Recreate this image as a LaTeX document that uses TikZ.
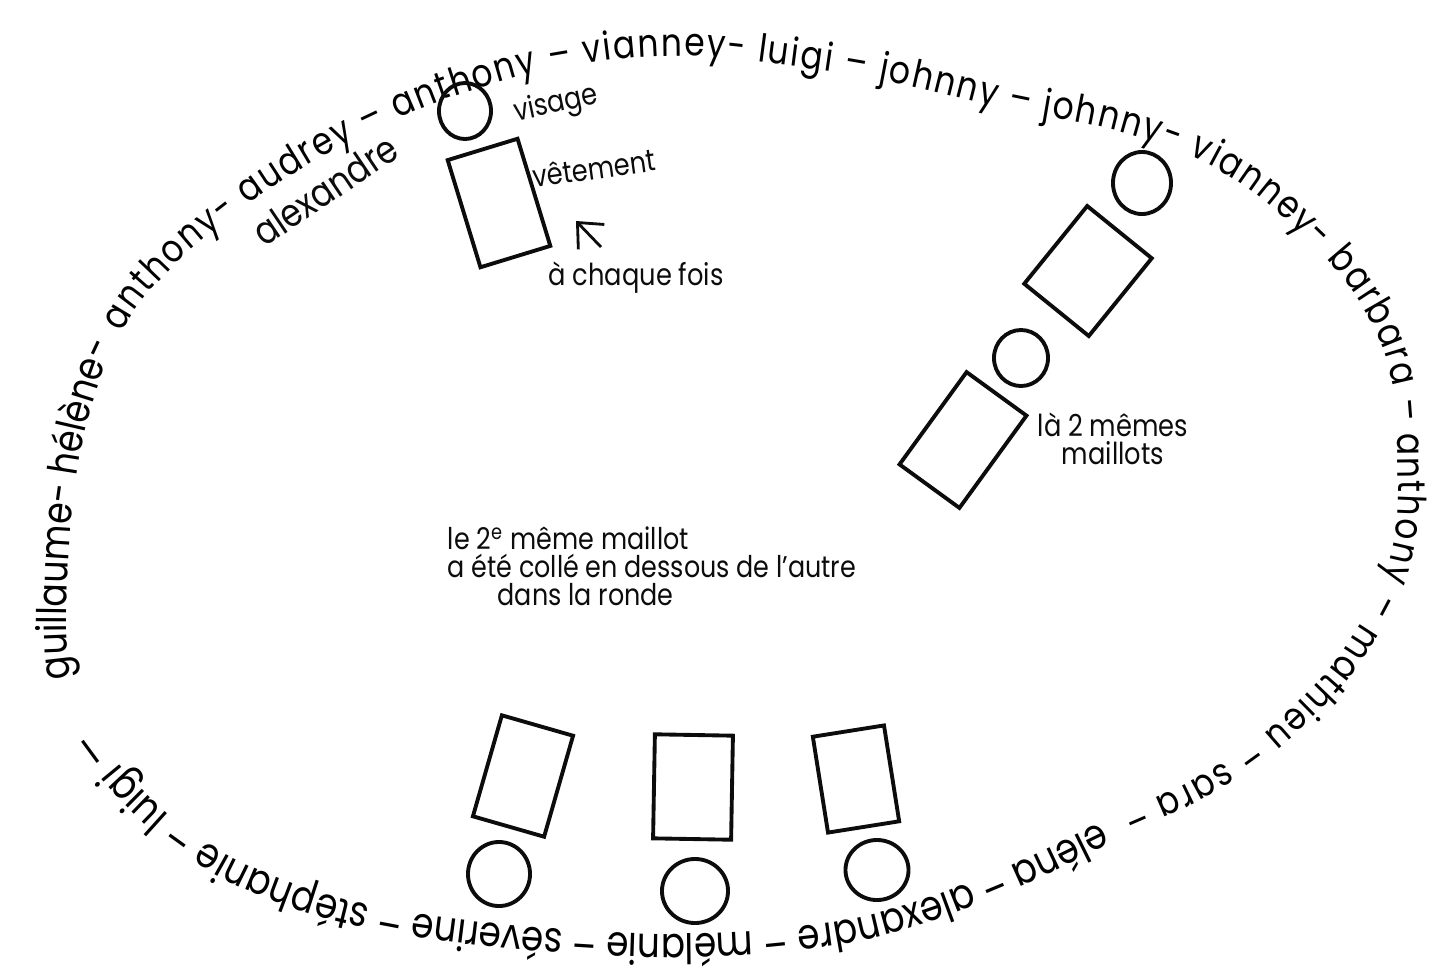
\documentclass[tikz,border=0pt]{standalone}
\usepackage{fontspec}
\setmainfont{Poppins}[FakeStretch=0.85]
\usetikzlibrary{arrows.meta,positioning,calc,shapes.geometric,decorations.text}
\definecolor{Ink}{RGB}{12,12,12}
\tikzset{
  tete/.style={ellipse,draw=Ink,line width=1.1pt,inner sep=0pt},
  habit/.style={rectangle,draw=Ink,line width=1.1pt,inner sep=0pt},
  note/.style={font=\fontsize{8.6}{8}\selectfont,text=Ink,align=center,inner sep=0pt},
  prenom/.style={font=\fontsize{11}{12}\selectfont,text=Ink,inner sep=0pt}
}
\begin{document}
\begin{tikzpicture}[x=0.01cm,y=-0.01cm]
  \useasboundingbox (0,0) rectangle (1439,975);
  % la ronde : le meme chemin ferme, trois morceaux de texte
  \path[decorate,decoration={text along path,text align={left,left indent=0.08cm},
      text={|\fontsize{11.6}{13}\selectfont|guillaume- hélène-}}]
    plot[smooth cycle,tension=0.7] coordinates {(105,745) (72,686) (68,570) (78,470) (95,395) (120,335) (160,280) (225,222) (300,170) (390,122) (480,88) (570,66) (680,56) (790,66) (900,84) (1010,110) (1120,132) (1215,168) (1295,228) (1355,295) (1390,370) (1398,460) (1392,550) (1360,625) (1300,700) (1215,768) (1110,818) (1000,870) (890,910) (790,928) (680,934) (570,930) (460,920) (360,903) (270,875) (200,838) (148,795)};
  \path[decorate,decoration={text along path,text align={fit to path,left indent=3.62cm,right indent=11.62cm},
      text={|\fontsize{11}{12}\selectfont|anthony- audrey – anthony – vianney- luigi – johnny – johnny- vianney- barbara – anthony – mathieu – sara –}}]
    plot[smooth cycle,tension=0.7] coordinates {(105,745) (72,686) (68,570) (78,470) (95,395) (120,335) (160,280) (225,222) (300,170) (390,122) (480,88) (570,66) (680,56) (790,66) (900,84) (1010,110) (1120,132) (1215,168) (1295,228) (1355,295) (1390,370) (1398,460) (1392,550) (1360,625) (1300,700) (1215,768) (1110,818) (1000,870) (890,910) (790,928) (680,934) (570,930) (460,920) (360,903) (270,875) (200,838) (148,795)};
  \path[decorate,decoration={text along path,text align={fit to path,left indent=24.25cm,right indent=0.5cm},
      text={|\fontsize{12}{13}\selectfont|eléna – alexandre – mélanie – séverine – stéphanie – luigi —}}]
    plot[smooth cycle,tension=0.7] coordinates {(105,745) (72,686) (68,570) (78,470) (95,395) (120,335) (160,280) (225,222) (300,170) (390,122) (480,88) (570,66) (680,56) (790,66) (900,84) (1010,110) (1120,132) (1215,168) (1295,228) (1355,295) (1390,370) (1398,460) (1392,550) (1360,625) (1300,700) (1215,768) (1110,818) (1000,870) (890,910) (790,928) (680,934) (570,930) (460,920) (360,903) (270,875) (200,838) (148,795)};
  \node[prenom,rotate=34] (alex) at (325,190) {alexandre};
  % personnage en haut
  \node[tete,minimum width=.52cm,minimum height=.56cm] (t1) at (465,111) {};
  \node[habit,minimum width=.73cm,minimum height=1.12cm,rotate=17] (h1) at (499,203) {};
  \node[note,rotate=12] (visage) at (556,105) {visage};
  \node[note,rotate=8] (vetement) at (594,168) {vêtement};
  \node[note] (fois) at (636,278) {à chaque fois};
  \coordinate (queue) at (601,247);
  \coordinate (pointe) at (576,221);
  \draw[-{Straight Barb[length=2mm,width=3.6mm]},line width=.8pt,draw=Ink] (queue) -- (pointe);
  % les 2 memes maillots
  \node[tete,minimum width=.58cm,minimum height=.62cm] (t2) at (1142,183) {};
  \node[habit,minimum width=.83cm,minimum height=1.00cm,rotate=-39] (h2) at (1088,271) {};
  \node[tete,minimum width=.54cm,minimum height=.56cm] (t3) at (1021,358) {};
  \node[habit,minimum width=.74cm,minimum height=1.14cm,rotate=-36] (h3) at (963,440) {};
  \node[note] (memes) at (1113,439) {là 2 mêmes\\maillots};
  % en bas, tete en bas
  \node[habit,minimum width=.74cm,minimum height=1.05cm,rotate=-16] (h4) at (523,776) {};
  \node[tete,minimum width=.62cm,minimum height=.64cm] (t4) at (499,874) {};
  \node[habit,minimum width=.78cm,minimum height=1.04cm,rotate=-1] (h5) at (693,787) {};
  \node[tete,minimum width=.66cm,minimum height=.64cm] (t5) at (695,891) {};
  \node[habit,minimum width=.72cm,minimum height=.97cm,rotate=9] (h6) at (856,779) {};
  \node[tete,minimum width=.63cm,minimum height=.60cm] (t6) at (877,870) {};
  \node[note,align=left,font=\fontsize{8.5}{8}\selectfont] (colle) at (652,566) {le 2\textsuperscript{e} même maillot\\ a été collé en dessous de l'autre\\ \hspace*{5mm}dans la ronde};
\end{tikzpicture}
\end{document}
